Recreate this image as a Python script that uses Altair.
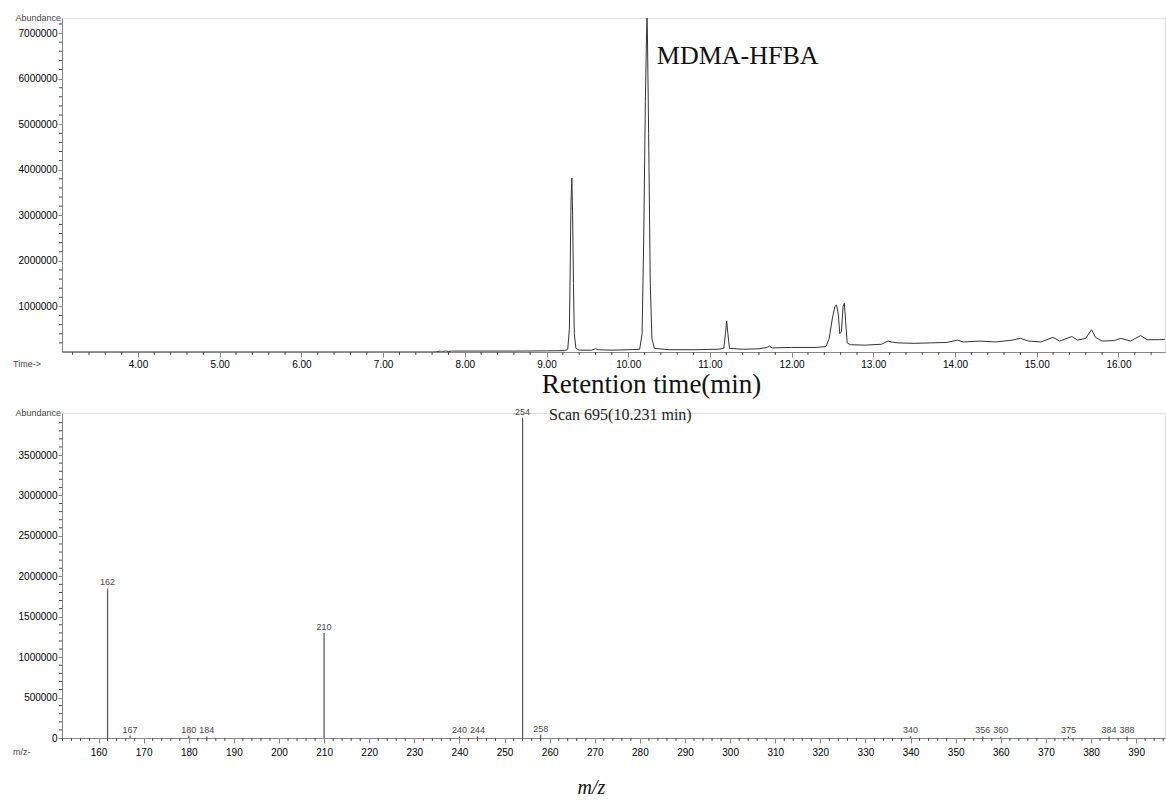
import altair as alt
import pandas as pd

# ---------------- chromatogram (TIC) ----------------
rt_min = [3.07, 7.60, 7.66, 7.70, 7.72, 7.76, 7.80, 7.84, 8.20, 8.60, 9.00, 9.22, 9.26, 9.28, 9.29, 9.30,
          9.31, 9.32, 9.33, 9.34, 9.36, 9.40, 9.55, 9.60, 9.64, 9.80, 10.00, 10.14, 10.17, 10.19, 10.21,
          10.225, 10.23, 10.235, 10.25, 10.27, 10.29, 10.32, 10.50, 10.80, 11.10, 11.17, 11.19, 11.205,
          11.22, 11.24, 11.40, 11.60, 11.70, 11.73, 11.76, 12.00, 12.30, 12.42, 12.46, 12.50, 12.53, 12.55,
          12.57, 12.59, 12.61, 12.63, 12.645, 12.66, 12.68, 12.72, 12.90, 13.10, 13.18, 13.22, 13.30, 13.50,
          13.70, 13.90, 14.03, 14.10, 14.30, 14.50, 14.70, 14.80, 14.90, 15.05, 15.20, 15.28, 15.43, 15.50,
          15.60, 15.67, 15.72, 15.80, 15.95, 16.03, 16.15, 16.27, 16.35, 16.50, 16.57]
rt_abund = [0, 0, 0.005e6, 0.02e6, 0.0, 0.025e6, 0.01e6, 0.02e6, 0.02e6, 0.02e6, 0.025e6, 0.03e6, 0.06e6,
            0.5e6, 1.8e6, 3.3e6, 3.82e6, 3.0e6, 1.5e6, 0.4e6, 0.08e6, 0.04e6, 0.04e6, 0.07e6, 0.05e6, 0.04e6,
            0.05e6, 0.06e6, 0.4e6, 2.5e6, 5.5e6, 7.0e6, 7.33e6, 7.0e6, 4.8e6, 1.5e6, 0.3e6, 0.08e6, 0.05e6,
            0.05e6, 0.06e6, 0.08e6, 0.4e6, 0.68e6, 0.4e6, 0.08e6, 0.06e6, 0.07e6, 0.1e6, 0.13e6, 0.09e6,
            0.1e6, 0.1e6, 0.12e6, 0.3e6, 0.75e6, 1.0e6, 1.03e6, 0.85e6, 0.4e6, 0.45e6, 1.0e6, 1.07e6, 0.7e6,
            0.2e6, 0.16e6, 0.15e6, 0.17e6, 0.24e6, 0.22e6, 0.2e6, 0.19e6, 0.2e6, 0.21e6, 0.26e6, 0.22e6,
            0.24e6, 0.22e6, 0.26e6, 0.3e6, 0.24e6, 0.22e6, 0.32e6, 0.24e6, 0.34e6, 0.26e6, 0.3e6, 0.49e6,
            0.32e6, 0.24e6, 0.25e6, 0.3e6, 0.24e6, 0.36e6, 0.27e6, 0.27e6, 0.28e6]

rt_ticks = [4, 5, 6, 7, 8, 9, 10, 11, 12, 13, 14, 15, 16]
rt_minor = [round(3.2 + 0.2 * i, 1) for i in range(67) if i % 5 != 4]
top_yticks = [1000000, 2000000, 3000000, 4000000, 5000000, 6000000, 7000000]
top_yminor = [200000 * i for i in range(1, 37) if i % 5 != 0]

peak_name = ["MDMA-HFBA"]
peak_name_t = [10.35]
peak_name_a = [6.49e6]

# ---------------- mass spectrum ----------------
ms_mz = [162, 167, 180, 184, 210, 240, 244, 254, 258, 340, 356, 360, 375, 384, 388]
ms_abund = [1.85e6, 0.03e6, 0.03e6, 0.02e6, 1.30e6, 0.02e6, 0.02e6, 3.96e6, 0.04e6,
            0.02e6, 0.02e6, 0.02e6, 0.02e6, 0.02e6, 0.02e6]
ms_label = ["162", "167", "180", "184", "210", "240", "244", "254", "258",
            "340", "356", "360", "375", "384", "388"]

mz_ticks = [160, 170, 180, 190, 200, 210, 220, 230, 240, 250, 260, 270, 280, 290, 300,
            310, 320, 330, 340, 350, 360, 370, 380, 390]
mz_minor = [152 + 2 * i for i in range(123) if (152 + 2 * i) % 10 != 0]
ms_yticks = [0, 500000, 1000000, 1500000, 2000000, 2500000, 3000000, 3500000]
ms_yminor = [100000 * i for i in range(1, 41) if i % 5 != 0]

W = 1103
H1 = 334
H2 = 325
LBL = "Liberation Sans"
SERIF = "Liberation Serif"
GREY = "#444444"

# ---------------- top panel ----------------
xs_top = alt.Scale(domain=[3.07, 16.57], nice=False, zero=False)
ys_top = alt.Scale(domain=[0, 7.33e6], nice=False, zero=False)

top_xaxis = alt.Axis(values=rt_ticks, format=".2f", tickSize=5, labelPadding=2, grid=False,
                     title="Retention time(min)", titleFont=SERIF, titleFontSize=27,
                     titleFontWeight="normal", titleColor="#111111", titleX=589, titleY=40,
                     titleAlign="center", titleBaseline="alphabetic")
top_yaxis = alt.Axis(values=top_yticks, format="d", tickSize=4, labelPadding=1, grid=False, title=None)

df_rt = pd.DataFrame({"t": rt_min, "a": rt_abund})

top_line = alt.Chart(df_rt).mark_line(color="#333333", strokeWidth=1, clip=True).encode(
    x=alt.X("t:Q", scale=xs_top, axis=top_xaxis),
    y=alt.Y("a:Q", scale=ys_top, axis=top_yaxis),
)

top_xminor = alt.Chart(pd.DataFrame({"t": rt_minor})).mark_rule(color=GREY, strokeWidth=1).encode(
    x=alt.X("t:Q", scale=xs_top, axis=top_xaxis), y=alt.value(H1), y2=alt.value(H1 + 3))
top_yminor_r = alt.Chart(pd.DataFrame({"a": top_yminor})).mark_rule(color=GREY, strokeWidth=1).encode(
    y=alt.Y("a:Q", scale=ys_top, axis=top_yaxis), x=alt.value(0), x2=alt.value(-3))

top_name = alt.Chart(pd.DataFrame({"n": peak_name, "t": peak_name_t, "a": peak_name_a})).mark_text(
    font=SERIF, fontSize=26, align="left", baseline="middle", color="#111111").encode(
    x=alt.X("t:Q", scale=xs_top, axis=top_xaxis), y=alt.Y("a:Q", scale=ys_top, axis=top_yaxis),
    text="n:N")

top_abund = alt.Chart(pd.DataFrame({"s": ["Abundance"]})).mark_text(
    font=LBL, fontSize=9, align="right", baseline="middle", color=GREY).encode(
    x=alt.value(-1), y=alt.value(0), text="s:N")
top_time = alt.Chart(pd.DataFrame({"s": ["Time->"]})).mark_text(
    font=LBL, fontSize=9, align="left", baseline="middle", color=GREY).encode(
    x=alt.value(-49), y=alt.value(H1 + 12), text="s:N")

top = alt.layer(top_line, top_xminor, top_yminor_r, top_name, top_abund, top_time).properties(
    width=W, height=H1)

# ---------------- bottom panel ----------------
xs_bot = alt.Scale(domain=[151.9, 396.4], nice=False, zero=False)
ys_bot = alt.Scale(domain=[0, 4.02e6], nice=False, zero=False)

bot_xaxis = alt.Axis(values=mz_ticks, format="d", tickSize=5, labelPadding=4, grid=False,
                     title="m/z", titleFont=SERIF, titleFontSize=20, titleFontStyle="italic",
                     titleFontWeight="normal", titleColor="#111111", titleX=529, titleY=55,
                     titleAlign="center", titleBaseline="alphabetic")
bot_yaxis = alt.Axis(values=ms_yticks, format="d", tickSize=4, labelPadding=1, grid=False, title=None)

df_ms = pd.DataFrame({"mz": ms_mz, "a": ms_abund, "lab": ms_label})

bars = alt.Chart(df_ms).mark_rule(color="#555555", strokeWidth=1.2).encode(
    x=alt.X("mz:Q", scale=xs_bot, axis=bot_xaxis),
    y=alt.Y("a:Q", scale=ys_bot, axis=bot_yaxis),
    y2=alt.datum(0),
)

bar_labels = alt.Chart(df_ms).mark_text(font=LBL, fontSize=9, color=GREY, baseline="bottom", dy=-1).encode(
    x=alt.X("mz:Q", scale=xs_bot, axis=bot_xaxis), y=alt.Y("a:Q", scale=ys_bot, axis=bot_yaxis),
    text="lab:N")

bot_xminor = alt.Chart(pd.DataFrame({"mz": mz_minor})).mark_rule(color=GREY, strokeWidth=1).encode(
    x=alt.X("mz:Q", scale=xs_bot, axis=bot_xaxis), y=alt.value(H2), y2=alt.value(H2 + 3))
bot_yminor = alt.Chart(pd.DataFrame({"a": ms_yminor})).mark_rule(color=GREY, strokeWidth=1).encode(
    y=alt.Y("a:Q", scale=ys_bot, axis=bot_yaxis), x=alt.value(0), x2=alt.value(-3))

bot_abund = alt.Chart(pd.DataFrame({"s": ["Abundance"]})).mark_text(
    font=LBL, fontSize=9, align="right", baseline="middle", color=GREY).encode(
    x=alt.value(-1), y=alt.value(0), text="s:N")
bot_mz = alt.Chart(pd.DataFrame({"s": ["m/z-"]})).mark_text(
    font=LBL, fontSize=9, align="left", baseline="middle", color=GREY).encode(
    x=alt.value(-49), y=alt.value(H2 + 14), text="s:N")
scan = alt.Chart(pd.DataFrame({"s": ["Scan 695(10.231 min)"]})).mark_text(
    font=SERIF, fontSize=16, align="left", baseline="middle", color="#222222").encode(
    x=alt.value(487), y=alt.value(2), text="s:N")

bottom = alt.layer(bars, bar_labels, bot_xminor, bot_yminor, bot_abund, bot_mz, scan).properties(
    width=W, height=H2)

chart = alt.vconcat(top, bottom, spacing=61, bounds="flush").properties(
    padding={"left": 12, "top": 13, "right": 0, "bottom": 0}
).configure_view(strokeWidth=0, stroke="transparent").configure_axis(
    grid=False, domainColor="#333333", domainWidth=1, tickColor=GREY, tickWidth=1,
    labelFont=LBL, labelFontSize=10, labelColor=GREY
).configure(background="white")

chart.save("out.html", embed_options={"renderer": "svg", "actions": False})
